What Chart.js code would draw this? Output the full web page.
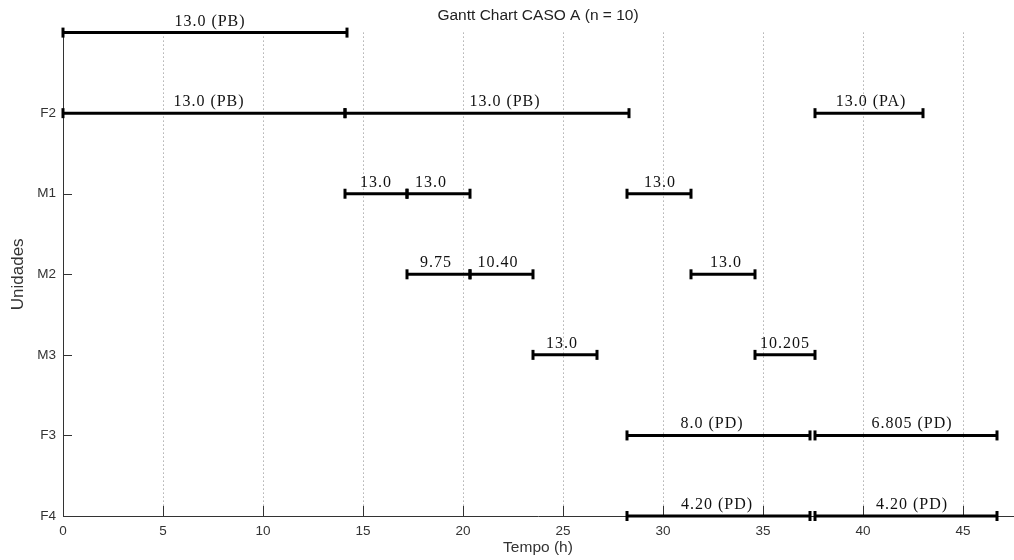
<!DOCTYPE html>
<html>
<head>
<meta charset="utf-8">
<script src="https://cdn.jsdelivr.net/npm/chart.js@4.4.0/dist/chart.umd.min.js"></script>
<style>
  body { margin: 0; background: #fff; }
  #wrap { width: 1014px; height: 560px; }
</style>
</head>
<body>
<div id="wrap"><canvas id="Chart"></canvas></div>
<script>
// units, top to bottom (top label not visible in the original)
const rowNames = ['', 'F2', 'M1', 'M2', 'M3', 'F3', 'F4'];
const xTicks = [0, 5, 10, 15, 20, 25, 30, 35, 40, 45];

// one entry per task
const taskRow   = [0, 1, 1, 1, 2, 2, 2, 3, 3, 3, 4, 4, 5, 5, 6, 6];
const taskStart = [0, 0, 14.1, 37.6, 14.1, 17.2, 28.2, 17.2, 20.35, 31.4, 23.5, 34.6, 28.2, 37.6, 28.2, 37.6];
const taskEnd   = [14.2, 14.1, 28.3, 43.0, 17.2, 20.35, 31.4, 20.35, 23.5, 34.6, 26.7, 37.6, 37.35, 46.7, 37.35, 46.7];
const taskLabel = ['13.0 (PB)', '13.0 (PB)', '13.0 (PB)', '13.0 (PA)', '13.0', '13.0', '13.0', '9.75', '10.40', '13.0',
                   '13.0', '10.205', '8.0 (PD)', '6.805 (PD)', '4.20 (PD)', '4.20 (PD)'];
// where each label sits along the time axis (h)
const labelAt   = [7.35, 7.3, 22.1, 40.4, 15.65, 18.4, 29.85, 18.65, 21.75, 33.15, 24.95, 36.1, 32.45, 42.45, 32.7, 42.45];

let datasets = [];
taskRow.forEach((r, i) => {
  datasets.push({
    data: [{x: taskStart[i], y: r}, {x: taskEnd[i], y: r}],
    borderColor: '#000',
    backgroundColor: '#000',
    borderWidth: 3,
    pointStyle: 'line',
    rotation: 90,
    pointRadius: 5,
    pointBorderWidth: 3,
    clip: false
  });
});

// labels above the bars + inward tick marks
const ganttExtras = {
  id: 'ganttExtras',
  beforeDatasetsDraw(chart) {
    const ctx = chart.ctx;
    const xs = chart.scales.x, ys = chart.scales.y;
    ctx.save();
    ctx.strokeStyle = '#333';
    ctx.lineWidth = 1;
    rowNames.forEach((n, r) => {
      let py = Math.round(ys.getPixelForValue(r)) + 0.5;
      ctx.beginPath();
      ctx.moveTo(xs.left, py);
      ctx.lineTo(xs.left + 9, py);
      ctx.stroke();
    });
    xTicks.forEach(v => {
      let px = Math.round(xs.getPixelForValue(v)) + 0.5;
      ctx.beginPath();
      ctx.moveTo(px, ys.bottom);
      ctx.lineTo(px, ys.bottom - 10);
      ctx.stroke();
    });
    ctx.restore();
  },
  afterDatasetsDraw(chart) {
    const ctx = chart.ctx;
    const xs = chart.scales.x, ys = chart.scales.y;
    ctx.save();
    ctx.font = '16px "Liberation Serif"';
    ctx.letterSpacing = '1px';
    ctx.fillStyle = '#111';
    ctx.textAlign = 'center';
    ctx.textBaseline = 'alphabetic';
    taskLabel.forEach((t, i) => {
      ctx.fillText(t, xs.getPixelForValue(labelAt[i]), ys.getPixelForValue(taskRow[i]) - 7);
    });
    ctx.restore();
  }
};

new Chart(document.getElementById('Chart').getContext('2d'), {
  type: 'line',
  data: { datasets: datasets },
  plugins: [ganttExtras],
  options: {
    responsive: true,
    maintainAspectRatio: false,
    animation: false,
    layout: { autoPadding: false, padding: { left: 0, right: 1, top: 0, bottom: 0 } },
    plugins: {
      legend: { display: false },
      tooltip: { enabled: false },
      title: {
        display: true,
        text: 'Gantt Chart CASO A (n = 10)',
        fullSize: false,
        color: '#222',
        font: { family: '"Liberation Sans", Arial', size: 15.5, weight: 'normal' },
        padding: { top: 6, bottom: 8 }
      }
    },
    scales: {
      x: {
        type: 'linear',
        min: 0,
        max: 47.5,
        afterBuildTicks: (scale) => {
          scale.ticks = xTicks.map(v => ({ value: v }));
        },
        afterFit: (scale) => {
          scale.height = 44;
          scale.paddingLeft = 0;
          scale.paddingRight = 0;
        },
        ticks: {
          color: '#333',
          padding: 7,
          maxRotation: 0,
          font: { family: '"Liberation Sans", Arial', size: 13.5 }
        },
        grid: {
          drawTicks: false,
          color: '#888',
          lineWidth: 1
        },
        border: { display: true, color: '#333', width: 1, dash: [1, 3] },
        title: {
          display: true,
          text: 'Tempo (h)',
          color: '#333',
          font: { family: '"Liberation Sans", Arial', size: 15.5 },
          padding: { top: 0, bottom: 3 }
        }
      },
      y: {
        type: 'linear',
        reverse: true,
        min: 0,
        max: 6,
        afterBuildTicks: (scale) => {
          scale.ticks = rowNames.map((n, i) => ({ value: i }));
        },
        afterFit: (scale) => {
          scale.width = 63;
          scale.paddingTop = 0;
          scale.paddingBottom = 0;
        },
        ticks: {
          color: '#333',
          padding: 7,
          callback: (v) => rowNames[v],
          font: { family: '"Liberation Sans", Arial', size: 13.5 }
        },
        grid: { display: false, drawTicks: false },
        border: { display: true, color: '#333', width: 1 },
        title: {
          display: true,
          text: 'Unidades',
          color: '#333',
          font: { family: '"Liberation Sans", Arial', size: 17 },
          padding: { top: 8, bottom: 0 }
        }
      }
    }
  }
});
</script>
</body>
</html>
